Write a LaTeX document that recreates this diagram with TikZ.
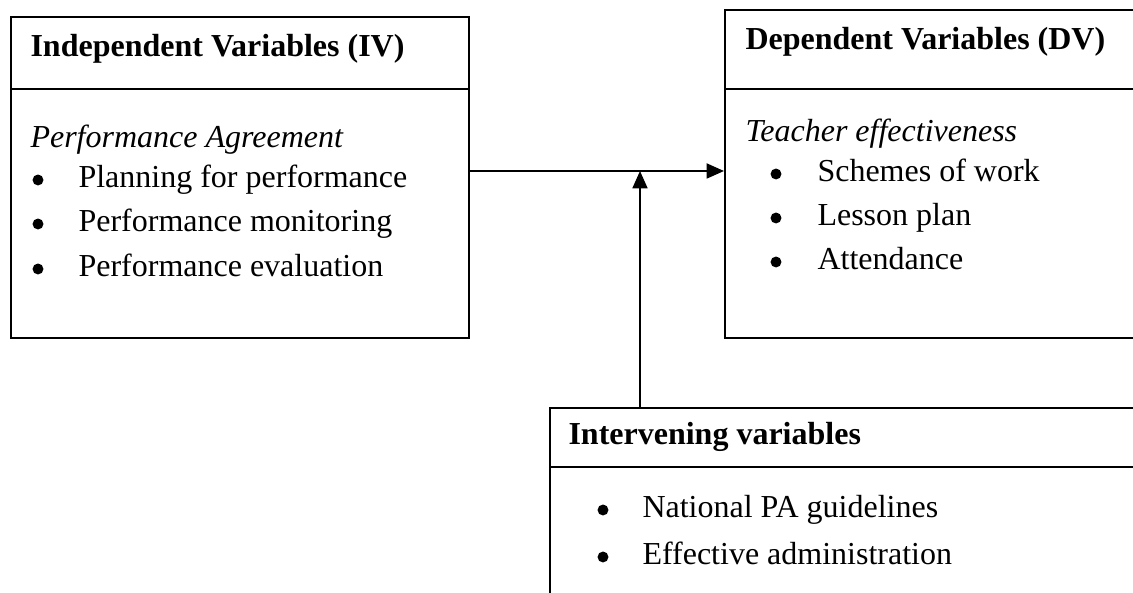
\documentclass[tikz,border=0pt]{standalone}
\usepackage{fontspec}
\setmainfont{Liberation Serif}
\usetikzlibrary{arrows.meta}
\begin{document}
\begin{tikzpicture}[x=0.375pt,y=-0.375pt,
  box/.style={draw,line width=0.75pt,rectangle,inner sep=0pt,anchor=north west},
  rule/.style={line width=0.75pt},
  txt/.style={anchor=base west,inner sep=0pt,font=\fontsize{12}{14}\selectfont},
  ttl/.style={txt,font=\fontsize{12}{14}\selectfont\bfseries},
  itl/.style={txt,font=\fontsize{12}{14}\selectfont\itshape},
  bul/.style={circle,fill,inner sep=0pt,minimum size=4.1pt},
  arr/.style={line width=0.75pt,-{Triangle[length=6.5pt,width=5.6pt]}}]
\useasboundingbox (0,0) rectangle (1133,593);
\clip (0,0) rectangle (1133,593);
% boxes
\node[box,minimum width=171.75pt,minimum height=120.375pt] (iv) at (10,16) {};
\node[box,minimum width=159.75pt,minimum height=123pt] (dv) at (724,9) {};
\node[box,minimum width=225.375pt,minimum height=79.875pt] (int) at (549,407) {};
% dividers
\draw[rule] (iv.west |- 0,89) -- (iv.east |- 0,89);
\draw[rule] (dv.west |- 0,89) -- (dv.east |- 0,89);
\draw[rule] (int.west |- 0,467) -- (int.east |- 0,467);
% IV texts
\node[ttl] (ivt) at (30,57) {Independent Variables (IV)};
\node[itl] (ivs) at (30,148) {Performance Agreement};
\node[bul] (ivb1) at (38,180) {};
\node[txt] (iv1) at (78,188) {Planning for performance};
\node[bul] (ivb2) at (38,224) {};
\node[txt] (iv2) at (78,232) {Performance monitoring};
\node[bul] (ivb3) at (38,269) {};
\node[txt] (iv3) at (78,277) {Performance evaluation};
% DV texts
\node[ttl] (dvt) at (745,50) {Dependent Variables (DV)};
\node[itl] (dvs) at (745,142) {Teacher effectiveness};
\node[bul] (dvb1) at (776,174) {};
\node[txt] (dv1) at (817,182) {Schemes of work};
\node[bul] (dvb2) at (776,218) {};
\node[txt] (dv2) at (817,226) {Lesson plan};
\node[bul] (dvb3) at (776,262) {};
\node[txt] (dv3) at (817,270) {Attendance};
% Intervening texts
\node[ttl] (intt) at (568,445) {Intervening variables};
\node[bul] (intb1) at (603,510) {};
\node[txt] (int1) at (642,518) {National PA guidelines};
\node[bul] (intb2) at (603,557) {};
\node[txt] (int2) at (642,565) {Effective administration};
% connectors
\coordinate (j) at (640,171);
\draw[arr] (iv.east |- j) -- (dv.west |- j);
\draw[arr] (int.north -| j) -- (j);
\end{tikzpicture}
\end{document}
